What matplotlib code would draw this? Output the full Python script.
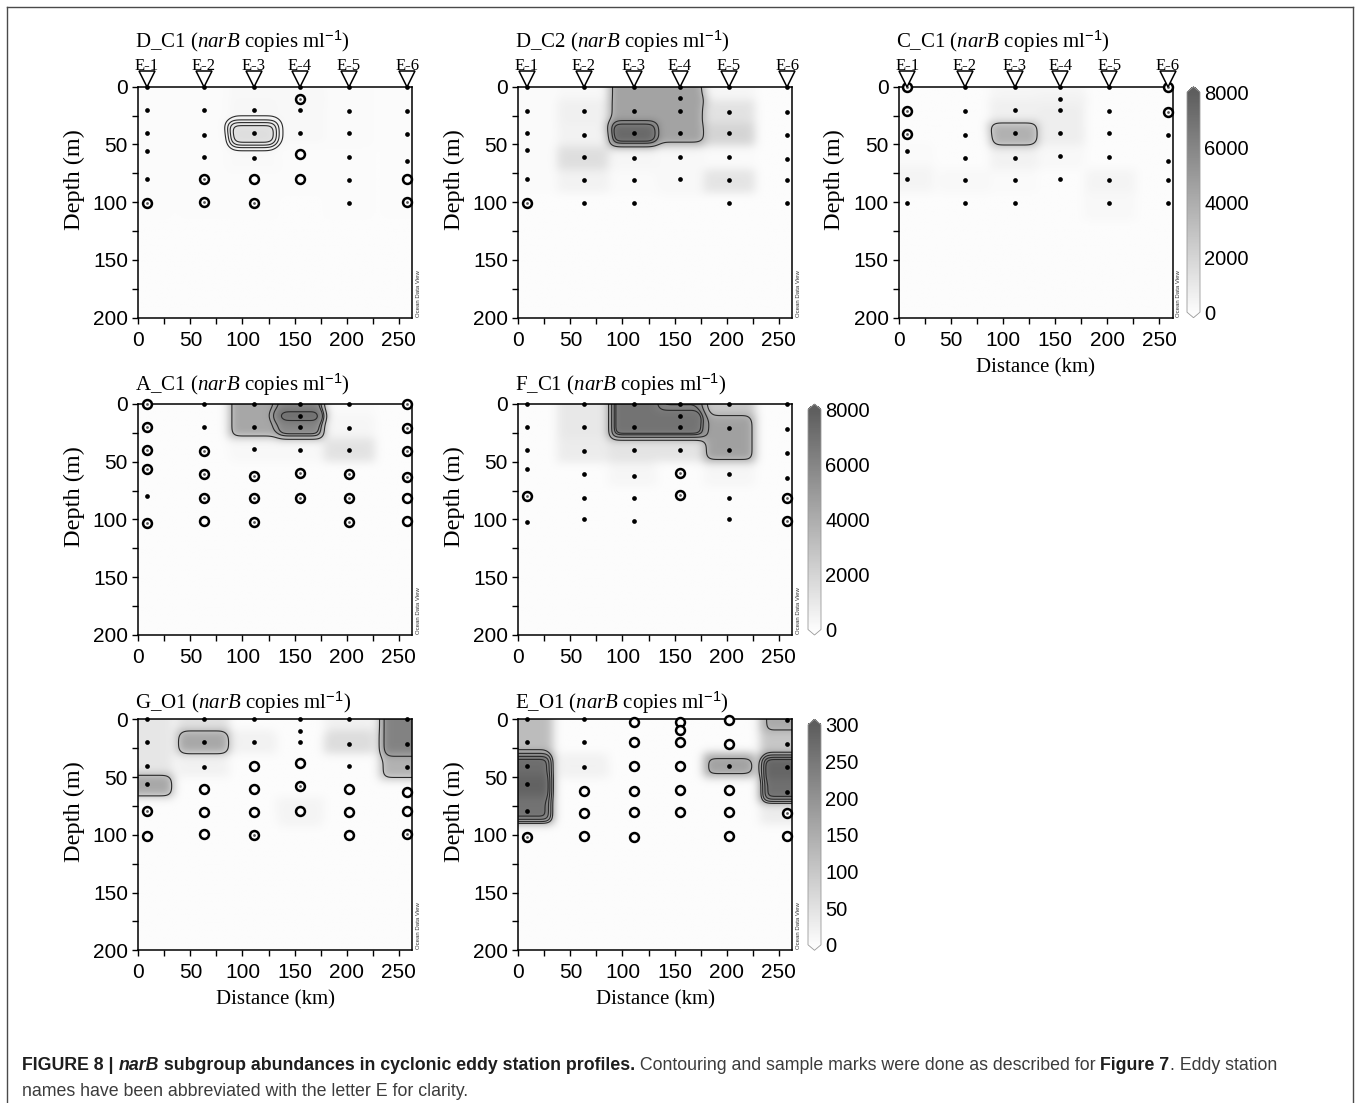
import numpy as np
import matplotlib
matplotlib.use('Agg')
import matplotlib.pyplot as plt
from matplotlib.colors import LinearSegmentedColormap, Normalize
from matplotlib.cm import ScalarMappable
from matplotlib.lines import Line2D
from matplotlib.ticker import MultipleLocator
import matplotlib.transforms as mtransforms

# ------------------------------------------------------------------ data
STATION_NAMES = ['E-1', 'E-2', 'E-3', 'E-4', 'E-5', 'E-6']
STATION_KM = [8, 63, 111, 155, 202, 258]
X_MAX = 263
Z_MAX = 200
X_TICKS = [0, 50, 100, 150, 200, 250]
Y_TICKS = [0, 50, 100, 150, 200]
CBAR_TICKS_HIGH = [0, 2000, 4000, 6000, 8000]
CBAR_TICKS_LOW = [0, 50, 100, 150, 200, 250, 300]

# marks: '.' = dot, 'c' = ring with centre dot, 'o' = open ring
DC1_DEPTH = [[0, 20, 40, 56, 80, 101], [0, 20, 42, 61, 80, 100], [0, 20, 40, 62, 80, 101],
             [0, 11, 20, 40, 58, 80], [0, 21, 40, 61, 81, 101], [0, 21, 41, 64, 80, 100]]
DC1_MARK = ['.....c', '....cc', '....oc', '.c..oo', '......', '....oc']
DC1_VAL = [[50, 50, 50, 50, 50, 50], [50, 50, 50, 50, 50, 50], [200, 250, 1500, 150, 50, 50],
           [200, 200, 200, 200, 50, 50], [100, 100, 100, 50, 50, 50], [50, 50, 50, 50, 50, 50]]
DC1_LEVELS = [350, 650, 950, 1250]

DC2_DEPTH = [[0, 21, 40, 55, 80, 101], [0, 21, 42, 61, 81, 101], [0, 21, 40, 62, 81, 101],
             [0, 10, 21, 40, 61, 80], [0, 22, 40, 61, 81, 101], [0, 22, 42, 63, 81, 101]]
DC2_MARK = ['.....c', '......', '......', '......', '......', '......']
DC2_VAL = [[100, 100, 100, 100, 100, 0], [200, 600, 500, 1500, 500, 0], [4500, 4500, 7400, 300, 100, 0],
           [4500, 4500, 4500, 4500, 200, 200], [300, 1300, 2000, 100, 1200, 0], [0, 0, 0, 0, 0, 0]]
DC2_LEVELS = [3400, 5600, 6500]

CC1_DEPTH = [[0, 21, 41, 56, 80, 101], [0, 21, 42, 62, 81, 101], [0, 20, 40, 62, 81, 101],
             [0, 11, 20, 40, 60, 80], [0, 21, 40, 61, 81, 101], [0, 22, 42, 64, 81, 101]]
CC1_MARK = ['ccc...', '......', '......', '......', '......', 'cc....']
CC1_VAL = [[0, 0, 0, 100, 400, 0], [0, 0, 0, 0, 200, 0], [300, 600, 3800, 500, 100, 0],
           [300, 500, 700, 700, 200, 0], [0, 0, 0, 0, 400, 200], [0, 0, 0, 0, 0, 0]]
CC1_LEVELS = [2500]

AC1_DEPTH = [[0, 20, 40, 56, 80, 103], [0, 20, 41, 61, 81, 101], [0, 20, 39, 62, 81, 102],
             [0, 10, 20, 40, 60, 81], [0, 21, 40, 61, 81, 102], [0, 21, 41, 63, 81, 101]]
AC1_MARK = ['cccc.c', '..ccco', '...ccc', '....cc', '...ccc', 'ccccoo']
AC1_VAL = [[0, 0, 0, 0, 0, 0], [0, 0, 0, 0, 0, 0], [4300, 4300, 200, 0, 0, 0],
           [5900, 7200, 5900, 200, 0, 0], [100, 300, 1300, 0, 0, 0], [0, 0, 0, 0, 0, 0]]
AC1_LEVELS = [3000, 4600, 5300, 6700]

FC1_DEPTH = [[0, 20, 40, 56, 80, 102], [0, 20, 41, 61, 81, 100], [0, 20, 40, 62, 81, 101],
             [0, 10, 20, 40, 60, 79], [0, 21, 40, 61, 81, 100], [0, 22, 42, 64, 81, 101]]
FC1_MARK = ['....c.', '......', '......', '....cc', '......', '....cc']
FC1_VAL = [[0, 0, 0, 0, 0, 0], [1000, 1000, 800, 0, 0, 0], [6900, 6900, 1200, 300, 0, 0],
           [5900, 6900, 6900, 1200, 0, 0], [2600, 4600, 4600, 300, 0, 0], [0, 0, 0, 0, 0, 0]]
FC1_LEVELS = [3500, 5000, 6000, 6400]

GO1_DEPTH = [[0, 20, 40, 56, 79, 101], [0, 20, 41, 60, 80, 99], [0, 20, 40, 60, 80, 100],
             [0, 10, 20, 38, 58, 79], [0, 21, 40, 60, 80, 100], [0, 21, 41, 63, 79, 99]]
GO1_MARK = ['....co', '...ooo', '..oooc', '...oco', '...ooo', '...ooc']
GO1_VAL = [[40, 40, 40, 160, 0, 0], [50, 160, 20, 0, 0, 0], [0, 20, 0, 0, 0, 0],
           [0, 0, 0, 0, 0, 15], [20, 60, 0, 0, 0, 0], [230, 230, 140, 0, 0, 0]]
GO1_LEVELS = [100, 180]

EO1_DEPTH = [[0, 20, 40, 56, 79, 102], [0, 20, 41, 62, 81, 101], [2, 20, 40, 62, 80, 102],
             [2, 9, 20, 40, 61, 80], [1, 21, 40, 61, 80, 101], [1, 21, 41, 63, 81, 101]]
EO1_MARK = ['.....c', '...ooo', 'oooooo', 'oooooo', 'oo.ooo', '....co']
EO1_VAL = [[120, 120, 270, 290, 260, 0], [0, 0, 20, 0, 0, 0], [0, 0, 0, 0, 0, 0],
           [0, 0, 0, 0, 0, 0], [0, 0, 170, 0, 0, 0], [155, 100, 285, 265, 30, 0]]
EO1_LEVELS = [140, 180, 220, 250]

# ------------------------------------------------------------------ style
W, H = 1356, 1103
plt.rcParams['font.family'] = ['Liberation Sans', 'DejaVu Sans']
plt.rcParams['mathtext.fontset'] = 'custom'
plt.rcParams['mathtext.rm'] = 'Liberation Serif'
plt.rcParams['mathtext.it'] = 'Liberation Serif:italic'
plt.rcParams['mathtext.sf'] = 'Liberation Sans'
SERIF = ['Liberation Serif', 'DejaVu Serif']

CMAP = LinearSegmentedColormap.from_list('odv_gray', ['#fcfcfc', '#5e5e5e'])

GX = np.arange(0, X_MAX + 1, 1.0)
GZ = np.arange(0, Z_MAX + 1, 1.0)
LX, LZ = 25.0, 14.0


def smooth(F, sx=4.5, sz=3.8):
    def kern(s):
        r = int(3 * s)
        t = np.arange(-r, r + 1)
        k = np.exp(-0.5 * (t / s) ** 2)
        return k / k.sum()
    kx, kz = kern(sx), kern(sz)
    P = np.pad(F, ((0, 0), (len(kx) // 2, len(kx) // 2)), mode='edge')
    F = np.apply_along_axis(lambda r: np.convolve(r, kx, mode='valid'), 1, P)
    P = np.pad(F, ((len(kz) // 2, len(kz) // 2), (0, 0)), mode='edge')
    F = np.apply_along_axis(lambda c: np.convolve(c, kz, mode='valid'), 0, P)
    return F


def grid_field(depths, vals):
    X, Z = np.meshgrid(GX, GZ)
    F = np.zeros_like(X)
    best = np.full_like(X, np.inf)
    for sx, ds, vs in zip(STATION_KM, depths, vals):
        for d, v in zip(ds, vs):
            dx = np.abs(X - sx) / LX
            dz = np.abs(Z - d) / LZ
            e = np.hypot(dx, dz)
            m = (dx <= 1) & (dz <= 1) & (e < best)
            F[m] = v
            best[m] = e[m]
    return smooth(F)


def ax_rect(left, top, w=274, h=231):
    return [left / W, 1 - (top + h) / H, w / W, h / H]


fig = plt.figure(figsize=(W / 100, H / 100), dpi=100)


def panel(left, top, name, depths, marks, vals, vmax, levels,
          stations=False, xlabel=False, title_dy=13):
    ax = fig.add_axes(ax_rect(left, top))
    F = grid_field(depths, vals)
    ax.imshow(F, extent=[-0.5, X_MAX + 0.5, Z_MAX + 0.5, -0.5], cmap=CMAP,
              vmin=0, vmax=vmax, aspect='auto', interpolation='bilinear', zorder=0)
    ax.contour(GX, GZ, F, levels=levels, colors='#2b2b2b', linewidths=0.8, zorder=2)
    ax.set_xlim(0, X_MAX)
    ax.set_ylim(Z_MAX, 0)
    for sx, ds, mk in zip(STATION_KM, depths, marks):
        for d, m in zip(ds, mk):
            if m == '.':
                ax.plot(sx, d, 'o', ms=3.4, color='k', mew=0, clip_on=False, zorder=5)
            else:
                ax.plot(sx, d, 'o', ms=6.4, mfc='white', mec='k', mew=1.8,
                        clip_on=False, zorder=5)
                if m == 'c':
                    ax.plot(sx, d, 'o', ms=2.0, color='#555555', mew=0,
                            clip_on=False, zorder=6)
    for sp in ax.spines.values():
        sp.set_linewidth(1.1)
    ax.set_xticks(X_TICKS)
    ax.set_yticks(Y_TICKS)
    ax.xaxis.set_minor_locator(MultipleLocator(25))
    ax.yaxis.set_minor_locator(MultipleLocator(25))
    ax.tick_params(which='both', direction='out', length=4.5, width=1.0,
                   labelsize=15, pad=3)
    ax.tick_params(axis='x', pad=5)
    ax.set_ylabel('Depth (m)', family=SERIF, fontsize=17.5, va='center')
    ax.yaxis.set_label_coords(-0.235, 0.6)
    if xlabel:
        ax.set_xlabel('Distance (km)', family=SERIF, fontsize=15, va='center')
        ax.xaxis.set_label_coords(0.5, -0.215)
    ax.annotate(name + r' ($\mathit{narB}$ copies ml$^{\mathsf{-1}}$)',
                xy=(0, 1), xycoords='axes fraction', xytext=(-3, title_dy),
                textcoords='offset pixels', ha='left', va='baseline',
                family=SERIF, fontsize=15)
    if stations:
        ax.plot(STATION_KM, [0] * len(STATION_KM), 'v', ms=11, mfc='white', mec='k',
                mew=1.1, clip_on=False, zorder=7,
                transform=ax.transData + mtransforms.ScaledTranslation(0, 7.5 / 100, fig.dpi_scale_trans))
        for sx, nm in zip(STATION_KM, STATION_NAMES):
            ax.annotate(nm, xy=(sx, 0), xycoords='data', xytext=(0, 17),
                        textcoords='offset pixels', ha='center', va='baseline',
                        family=SERIF, fontsize=12, annotation_clip=False)
    ax.text(1 + 6 / 274, 0.005, 'Ocean Data View', rotation=90, fontsize=4.3,
            ha='center', va='bottom', transform=ax.transAxes, color='#333333')
    return ax


def cbar(left, top, vmax, ticks):
    cax = fig.add_axes(ax_rect(left, top, w=13, h=231))
    cb = fig.colorbar(ScalarMappable(norm=Normalize(0, vmax), cmap=CMAP), cax=cax,
                      extend='both', extendfrac=0.025, ticks=ticks)
    cb.outline.set_edgecolor('#9a9a9a')
    cb.outline.set_linewidth(0.6)
    cax.tick_params(length=0, labelsize=14.5, pad=3)
    return cb


ROW1, ROW2, ROW3 = 86.7, 404.0, 719.3
COL1, COL2, COL3 = 138.3, 518.3, 899.0

panel(COL1, ROW1, 'D_C1', DC1_DEPTH, DC1_MARK, DC1_VAL, 8000, DC1_LEVELS, stations=True, title_dy=39)
panel(COL2, ROW1, 'D_C2', DC2_DEPTH, DC2_MARK, DC2_VAL, 8000, DC2_LEVELS, stations=True, title_dy=39)
panel(COL3, ROW1, 'C_C1', CC1_DEPTH, CC1_MARK, CC1_VAL, 8000, CC1_LEVELS, stations=True,
      xlabel=True, title_dy=39)
cbar(1187, ROW1, 8000, CBAR_TICKS_HIGH)

panel(COL1, ROW2, 'A_C1', AC1_DEPTH, AC1_MARK, AC1_VAL, 8000, AC1_LEVELS)
panel(COL2, ROW2, 'F_C1', FC1_DEPTH, FC1_MARK, FC1_VAL, 8000, FC1_LEVELS)
cbar(808, ROW2, 8000, CBAR_TICKS_HIGH)

panel(COL1, ROW3, 'G_O1', GO1_DEPTH, GO1_MARK, GO1_VAL, 300, GO1_LEVELS, xlabel=True, title_dy=11)
panel(COL2, ROW3, 'E_O1', EO1_DEPTH, EO1_MARK, EO1_VAL, 300, EO1_LEVELS, xlabel=True, title_dy=11)
cbar(808, ROW3, 300, CBAR_TICKS_LOW)

# frame
fc = '#4a4a4a'
fig.add_artist(Line2D([7 / W, 7 / W], [0, 1 - 7 / H], transform=fig.transFigure, color=fc, lw=1.0))
fig.add_artist(Line2D([1353 / W, 1353 / W], [0, 1 - 7 / H], transform=fig.transFigure, color=fc, lw=1.0))
fig.add_artist(Line2D([7 / W, 1353 / W], [1 - 7 / H, 1 - 7 / H], transform=fig.transFigure, color=fc, lw=1.0))

# caption
renderer = fig.canvas.get_renderer()


def caption_line(x_px, y_px, pieces):
    x = x_px
    for txt, weight, style, color in pieces:
        t = fig.text(x / W, 1 - y_px / H, txt, fontsize=12.8, weight=weight, style=style,
                     color=color, ha='left', va='baseline',
                     family=['Liberation Sans', 'DejaVu Sans'])
        x += t.get_window_extent(renderer).width


DARK, GREY = '#1e1e1e', '#3c3c3c'
caption_line(22, 1070, [
    ('FIGURE 8 | ', 'bold', 'normal', DARK),
    ('narB', 'bold', 'italic', DARK),
    (' subgroup abundances in cyclonic eddy station profiles.', 'bold', 'normal', DARK),
    (' Contouring and sample marks were done as described for ', 'normal', 'normal', GREY),
    ('Figure 7', 'bold', 'normal', DARK),
    ('. Eddy station', 'normal', 'normal', GREY),
])
caption_line(22, 1096, [
    ('names have been abbreviated with the letter E for clarity.', 'normal', 'normal', GREY),
])

fig.savefig('out.png', dpi=100)
